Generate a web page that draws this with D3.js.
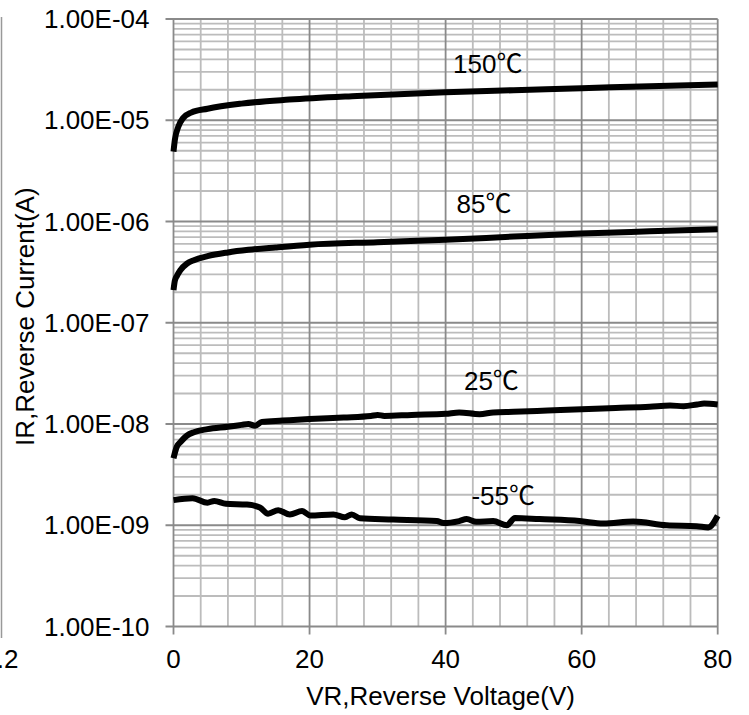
<!DOCTYPE html>
<html>
<head>
<meta charset="utf-8">
<script src="https://cdn.jsdelivr.net/npm/d3@7"></script>
<style>
  body { margin: 0; background: #fff; }
  text { font-family: "Liberation Sans", Arial, "Noto Sans CJK SC", sans-serif; fill: #000; }
</style>
</head>
<body>
<svg id="chart" width="749" height="715"></svg>
<script>
// reverse voltage (V) for each curve, and measured reverse current (A)
var v150 = [0, 0.2, 0.7, 1.4, 2.6, 5, 10, 17, 27, 40, 50, 60, 70, 80];
var i150 = [4.9e-6, 6.4e-6, 8.6e-6, 1.05e-5, 1.19e-5, 1.3e-5, 1.46e-5, 1.6e-5, 1.74e-5, 1.89e-5, 1.98e-5, 2.07e-5, 2.17e-5, 2.26e-5];

var v85 = [0, 0.2, 0.5, 1, 2, 3, 5, 8, 11, 15, 20, 30, 40, 50, 60, 70, 80];
var i85 = [2.1e-7, 2.6e-7, 2.9e-7, 3.3e-7, 3.85e-7, 4.15e-7, 4.55e-7, 4.95e-7, 5.25e-7, 5.55e-7, 5.9e-7, 6.25e-7, 6.6e-7, 7.1e-7, 7.6e-7, 8.0e-7, 8.4e-7];

var v25 = [0, 0.5, 1, 2, 3, 5, 8, 10, 11, 12, 13, 16, 20, 25, 29, 30, 31, 35, 40, 42, 45, 47, 50, 55, 60, 65, 70, 73, 75, 77, 78, 80];
var i25 = [4.6e-9, 6.0e-9, 6.6e-9, 7.7e-9, 8.3e-9, 8.9e-9, 9.4e-9, 9.8e-9, 1.0e-8, 9.6e-9, 1.05e-8, 1.08e-8, 1.12e-8, 1.16e-8, 1.2e-8, 1.23e-8, 1.2e-8, 1.23e-8, 1.26e-8, 1.3e-8, 1.25e-8, 1.3e-8, 1.32e-8, 1.36e-8, 1.4e-8, 1.44e-8, 1.48e-8, 1.52e-8, 1.5e-8, 1.56e-8, 1.59e-8, 1.56e-8];

var vm55 = [0, 2.8, 5, 6, 7.7, 10.8, 12.7, 13.9, 15.4, 17.1, 18.9, 20.1, 23.5, 25.2, 26.2, 27.4, 32.3, 38.7, 39.7, 42, 43.1, 44.5, 47, 49, 50.2, 53.8, 59.7, 63.2, 67.6, 72.5, 76.9, 78.6, 80];
var im55 = [1.77e-9, 1.85e-9, 1.67e-9, 1.74e-9, 1.63e-9, 1.6e-9, 1.5e-9, 1.3e-9, 1.41e-9, 1.28e-9, 1.38e-9, 1.25e-9, 1.28e-9, 1.2e-9, 1.28e-9, 1.17e-9, 1.14e-9, 1.1e-9, 1.05e-9, 1.1e-9, 1.15e-9, 1.08e-9, 1.1e-9, 1.0e-9, 1.18e-9, 1.15e-9, 1.1e-9, 1.04e-9, 1.09e-9, 1.0e-9, 0.98e-9, 0.95e-9, 1.24e-9];

// curve labels, anchored at (V, A)
var labelText = ["150\u2103", "85\u2103", "25\u2103", "-55\u2103"];
var labelV = [41.1, 41.6, 42.7, 43.8];
var labelI = [2.93e-5, 1.21e-6, 2.17e-8, 1.59e-9];

var xTicks = [0, 20, 40, 60, 80];
var yTicks = [1e-4, 1e-5, 1e-6, 1e-7, 1e-8, 1e-9, 1e-10];

var margin = {top: 19, right: 31.3, bottom: 88.5, left: 173.5};
var width = 749 - margin.left - margin.right;
var height = 715 - margin.top - margin.bottom;
var fs = 26;

var svg = d3.select("#chart");
var g = svg.append("g").attr("transform", "translate(" + margin.left + "," + margin.top + ")");

var x = d3.scaleLinear().domain([0, 80]).range([0, width]);
var y = d3.scaleLog().domain([1e-10, 1e-4]).range([height, 0]);

// excel style exponent label, 1.00E-04
function sci(d) {
    var e = Math.round(Math.log10(d));
    var m = d / Math.pow(10, e);
    var s = Math.abs(e) < 10 ? "0" + Math.abs(e) : "" + Math.abs(e);
    return m.toFixed(2) + "E" + (e < 0 ? "-" : "+") + s;
}

// minor grid
var minorY = y.ticks().filter(function(d) { return Math.abs(Math.log10(d) - Math.round(Math.log10(d))) > 1e-6; });
g.append("g").selectAll("line").data(minorY).join("line")
    .attr("x1", 0).attr("x2", width)
    .attr("y1", function(d) { return y(d); }).attr("y2", function(d) { return y(d); })
    .attr("stroke", "#bcbcbc").attr("stroke-width", 1.8);

var minorX = d3.range(4, 80, 4).filter(function(d) { return d % 20 !== 0; });
g.append("g").selectAll("line").data(minorX).join("line")
    .attr("x1", function(d) { return x(d); }).attr("x2", function(d) { return x(d); })
    .attr("y1", 0).attr("y2", height)
    .attr("stroke", "#bcbcbc").attr("stroke-width", 1.8);

// major grid + ticks
g.append("g").selectAll("line").data(yTicks).join("line")
    .attr("x1", -8).attr("x2", width)
    .attr("y1", function(d) { return y(d); }).attr("y2", function(d) { return y(d); })
    .attr("stroke", "#8a8a8a").attr("stroke-width", 1.8);

g.append("g").selectAll("line").data(xTicks).join("line")
    .attr("x1", function(d) { return x(d); }).attr("x2", function(d) { return x(d); })
    .attr("y1", 0).attr("y2", height + 8)
    .attr("stroke", "#8a8a8a").attr("stroke-width", 1.8);

// tick labels
g.append("g").selectAll("text").data(yTicks).join("text")
    .attr("x", -24).attr("y", function(d) { return y(d) + 9; })
    .attr("text-anchor", "end").attr("font-size", fs)
    .text(sci);

g.append("g").selectAll("text").data(xTicks).join("text")
    .attr("x", function(d) { return x(d); }).attr("y", height + 41)
    .attr("text-anchor", "middle").attr("font-size", fs)
    .text(function(d) { return d; });

// axis titles
g.append("text")
    .attr("x", width / 2 - 5).attr("y", height + 78)
    .attr("text-anchor", "middle").attr("font-size", fs)
    .text("VR,Reverse Voltage(V)");

g.append("text")
    .attr("transform", "translate(" + (34 - margin.left) + "," + (height / 2 - 6) + ") rotate(-90)")
    .attr("text-anchor", "middle").attr("font-size", fs)
    .text("IR,Reverse Current(A)");

// curves
var curves = [[v150, i150], [v85, i85], [v25, i25], [vm55, im55]];
var line = d3.line()
    .x(function(d) { return x(d[0]); })
    .y(function(d) { return y(d[1]); })
    .curve(d3.curveMonotoneX);

g.append("g").selectAll("path").data(curves).join("path")
    .attr("d", function(c) { return line(d3.zip(c[0], c[1])); })
    .attr("fill", "none").attr("stroke", "#000").attr("stroke-width", 6)
    .attr("stroke-linejoin", "round").attr("stroke-linecap", "butt");

g.append("g").selectAll("text").data(labelText).join("text")
    .attr("x", function(d, i) { return x(labelV[i]); })
    .attr("y", function(d, i) { return y(labelI[i]); })
    .attr("font-size", fs)
    .text(function(d) { return d; });

// edge of the neighbouring chart, cut off at the left
svg.append("line")
    .attr("x1", 1.5).attr("x2", 1.5).attr("y1", 17).attr("y2", 638)
    .attr("stroke", "#999").attr("stroke-width", 1.5);
svg.append("text")
    .attr("x", 18.5).attr("y", margin.top + height + 41)
    .attr("text-anchor", "end").attr("font-size", fs)
    .text("1.2");
</script>
</body>
</html>
